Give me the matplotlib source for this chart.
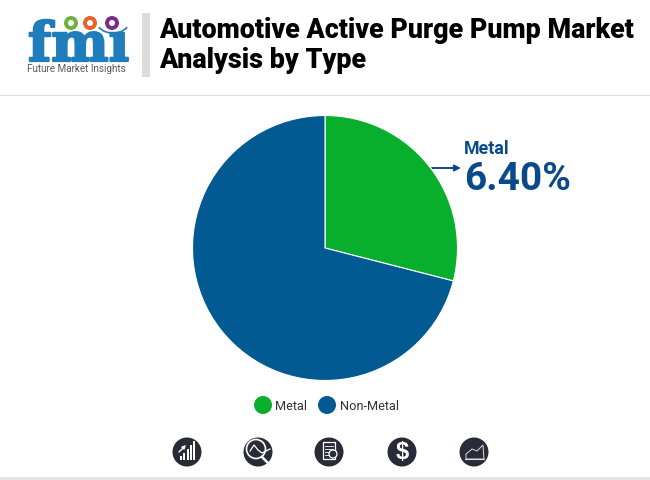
import matplotlib
matplotlib.use("Agg")
import matplotlib.pyplot as plt
import matplotlib.patheffects as pe
from matplotlib.patches import Circle, Rectangle, Arc, Polygon

categories = ["Metal", "Non-Metal"]
shares = [29, 71]
colors = ["#07AF2D", "#015A92"]
title_lines = ["Automotive Active Purge Pump Market", "Analysis by Type"]
callout_label = "Metal"
callout_value = "6.40%"
NAVY = "#0B4A8A"
DARK = "#2A2B38"

fig = plt.figure(figsize=(6.5, 4.8), dpi=100, facecolor="white")
bg = fig.add_axes([0, 0, 1, 1])
bg.set_xlim(0, 650)
bg.set_ylim(480, 0)
bg.axis("off")

# Header furniture
bg.add_patch(Rectangle((142, 13), 8, 64, color="#DCDCDC", lw=0))
bg.add_patch(Rectangle((0, 94.5), 650, 1.5, color="#D9D9D9", lw=0))
bg.add_patch(Rectangle((0, 476.5), 650, 3.5, color="#E4E4E4", lw=0))
for i, line in enumerate(title_lines):
    bg.text(159, 31 + 29.5 * i, line, fontfamily="Roboto", fontweight="black", fontsize=19.4,
            color="black", va="center", ha="left")

# Logo
LOGO = "#1F7DBB"
bg.text(28, 61, "f\u006d\u0131", fontfamily="DejaVu Serif", fontweight="bold", fontsize=39,
        color=LOGO, ha="left", va="baseline", zorder=2,
        path_effects=[pe.withStroke(linewidth=1.6, foreground=LOGO)])
for k in range(8):
    bg.add_patch(Rectangle((20, 25.5 + k * 5.0), 115, 0.9, color="white", lw=0, zorder=3))
for x, c in [(71, "#6DB33F"), (90, "#E8622C"), (112, "#7B2D8E")]:
    bg.add_patch(Circle((x, 23), 7, color=c, lw=0, zorder=4))
    bg.add_patch(Circle((x, 23), 3, color="white", lw=0, zorder=5))
bg.add_patch(Arc((113, 22), 32, 22, theta1=20, theta2=160, color=LOGO, lw=1.2, zorder=4))
bg.text(76, 68.5, "Future Market Insights", fontfamily="Roboto", fontsize=7.1,
        color="#5A5A5A", ha="center", va="center", zorder=6)

# Pie: centre (325, 248), radius 132 px
R = 132.5
pie_ax = fig.add_axes([(325 - R) / 650, 1 - (248 + R) / 480, 2 * R / 650, 2 * R / 480])
pie_ax.pie(shares, colors=colors, startangle=90, counterclock=False, radius=1,
           wedgeprops={"linewidth": 0.8, "edgecolor": "white"})
pie_ax.set_xlim(-1, 1)
pie_ax.set_ylim(-1, 1)

# Callout
bg.annotate("", xy=(461, 168), xytext=(432, 168),
            arrowprops=dict(arrowstyle="-|>", color=NAVY, lw=1.4, mutation_scale=9,
                            shrinkA=0, shrinkB=0))
bg.text(464, 149, callout_label, fontfamily="Roboto", fontweight="bold", fontsize=12.8,
        color=NAVY, va="center", ha="left")
bg.text(464, 180, callout_value, fontfamily="Roboto", fontweight="bold", fontsize=28,
        color=NAVY, va="center", ha="left")

# Legend
for x, tx, c, name in zip([263, 327], [275, 340], colors, categories):
    bg.add_patch(Circle((x, 405), 9, color=c, lw=0))
    bg.text(tx, 406, name, fontfamily="Roboto", fontsize=9.2, color="#333333",
            va="center", ha="left")

# Icons
ICON_Y = 452
icon_x = [187, 258, 329, 402, 474]
for x in icon_x:
    bg.add_patch(Circle((x, ICON_Y), 14.5, color=DARK, lw=0))
# bars + arrow
for i, h in enumerate([4, 7, 11, 15, 19]):
    bg.add_patch(Rectangle((180 + i * 3.3, 460 - h), 2, h, color="white", lw=0, zorder=3))
bg.annotate("", xy=(186, 445), xytext=(179, 452),
            arrowprops=dict(arrowstyle="-|>", color="white", lw=1, mutation_scale=5, shrinkA=0, shrinkB=0))
# magnifier
bg.add_patch(Circle((256, 449), 9.5, fill=False, ec="white", lw=1.2, zorder=3))
bg.plot([250, 254, 258, 262, 270], [451, 445, 450, 453, 449], color="white", lw=0.9, zorder=3)
bg.plot([262, 269], [457, 464], color="white", lw=1.8, zorder=3)
# document
bg.add_patch(Rectangle((323, 442), 12, 17, fill=False, ec="white", lw=0.9, zorder=3))
for k in range(4):
    bg.plot([325, 333], [446 + k * 3, 446 + k * 3], color="white", lw=0.6, zorder=3)
bg.add_patch(Circle((333, 454), 4, fc=DARK, ec="white", lw=0.9, zorder=4))
# dollar
bg.text(402, 452.5, "$", fontfamily="Liberation Sans", fontweight="bold", fontsize=17,
        color="white", ha="center", va="center", zorder=3)
# area
bg.add_patch(Polygon([(466, 459), (466, 454), (472, 449), (477, 451), (483, 445), (484, 459)],
                     closed=True, fill=False, ec="#DDDDDD", lw=0.7, zorder=3))
bg.plot([465, 484], [459, 459], color="#DDDDDD", lw=0.8, zorder=3)

fig.savefig("out.png", dpi=100, facecolor="white")
